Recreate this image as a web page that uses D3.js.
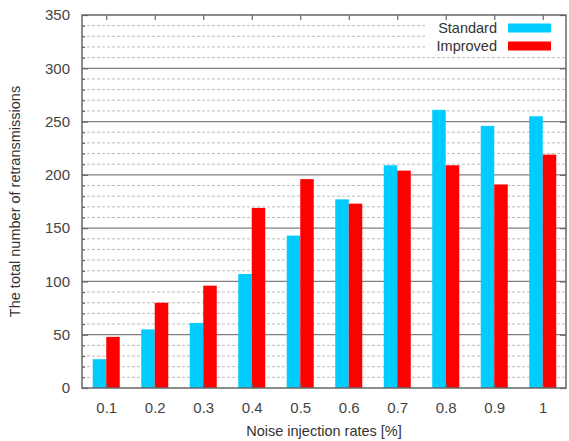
<!DOCTYPE html>
<html><head><meta charset="utf-8">
<script src="https://cdn.jsdelivr.net/npm/d3@7"></script>
<style>body{margin:0;background:#fff}svg{display:block}</style>
</head><body>
<script>
const categories = [0.1,0.2,0.3,0.4,0.5,0.6,0.7,0.8,0.9,1];
const categoryLabels = ["0.1","0.2","0.3","0.4","0.5","0.6","0.7","0.8","0.9","1"];
const standard = [27,55,61,107,143,177,209,261,246,255];
const improved = [48,80,96,169,196,173,204,209,191,219];
const seriesNames = ["Standard","Improved"];
const yMajorTicks = [0,50,100,150,200,250,300,350];

const W=569,H=441;
const m={l:82,r:3,t:15,b:53};
const svg=d3.select("body").append("svg").attr("width",W).attr("height",H);
const x=d3.scaleLinear().domain([0.05,1.05]).range([m.l,W-m.r+1]);
const y=d3.scaleLinear().domain([0,350]).range([H-m.b,m.t]);
const font="Liberation Sans, Arial, sans-serif";
const minor=d3.range(0,351,10).filter(v=>v%50!==0);

// minor grid
svg.append("g").selectAll("line").data(minor).join("line")
 .attr("x1",m.l).attr("x2",W-m.r).attr("y1",d=>y(d)).attr("y2",d=>y(d))
 .attr("stroke","#bdbdbd").attr("stroke-width",1).attr("stroke-dasharray","3,2");
// legend background
svg.append("rect").attr("x",425).attr("y",17).attr("width",W-m.r-425).attr("height",37).attr("fill","#fff");
// major grid
svg.append("g").selectAll("line").data(yMajorTicks.slice(1,-1)).join("line")
 .attr("x1",m.l).attr("x2",W-m.r).attr("y1",d=>y(d)).attr("y2",d=>y(d))
 .attr("stroke","#808080").attr("stroke-width",1.3);

const bw=13.5;
const series=[standard,improved];
const colors=["#00ccff","#ff0000"];
series.forEach((s,si)=>{
 svg.append("g").selectAll("rect").data(categories).join("rect")
  .attr("x",(d)=>x(d)+(si===0?-bw:0)).attr("width",bw)
  .attr("y",(d,i)=>y(s[i])).attr("height",(d,i)=>y(0)-y(s[i]))
  .attr("fill",colors[si]);
});

// axes with inward ticks
const yAxisL=d3.axisLeft(y).tickValues(yMajorTicks).tickSize(-6).tickPadding(12).tickFormat(d3.format("d"));
svg.append("g").attr("transform",`translate(${m.l},0)`).call(yAxisL);
const yMinorL=d3.axisLeft(y).tickValues(minor).tickSize(-3).tickFormat("");
svg.append("g").attr("transform",`translate(${m.l},0)`).call(yMinorL).call(g=>g.select(".domain").remove());
const yR=d3.axisRight(y).tickValues(yMajorTicks).tickSize(-6).tickFormat("");
svg.append("g").attr("transform",`translate(${W-m.r},0)`).call(yR).call(g=>g.select(".domain").remove());
const xB=d3.axisBottom(x).tickValues(categories).tickSize(-5).tickPadding(14).tickFormat((d,i)=>categoryLabels[i]);
svg.append("g").attr("transform",`translate(0,${H-m.b})`).call(xB);
const xT=d3.axisTop(x).tickValues(categories).tickSize(-5).tickFormat("");
svg.append("g").attr("transform",`translate(0,${m.t})`).call(xT).call(g=>g.select(".domain").remove());

svg.selectAll(".tick line").attr("stroke","#666").attr("stroke-width",1.2);
svg.selectAll(".domain").attr("stroke","none");
svg.selectAll(".tick text").attr("font-family",font).attr("font-size",15).attr("fill","#444");

// frame
svg.append("rect").attr("x",m.l).attr("y",m.t).attr("width",W-m.r-m.l).attr("height",H-m.b-m.t)
 .attr("fill","none").attr("stroke","#666").attr("stroke-width",1.5);

// legend
const lg=[{n:seriesNames[0],c:colors[0],yy:28},{n:seriesNames[1],c:colors[1],yy:46}];
lg.forEach(l=>{
 svg.append("text").attr("x",497).attr("y",l.yy).attr("dy","0.35em").attr("text-anchor","end")
  .attr("font-family",font).attr("font-size",14.5).attr("fill","#333").text(l.n);
 svg.append("rect").attr("x",508).attr("y",l.yy-4.5).attr("width",43).attr("height",9).attr("fill",l.c);
});

// titles
svg.append("text").attr("x",324).attr("y",431).attr("dy","0.35em").attr("text-anchor","middle")
 .attr("font-family",font).attr("font-size",14.5).attr("fill","#333").text("Noise injection rates [%]");
svg.append("text").attr("transform",`translate(15,${(m.t+H-m.b)/2}) rotate(-90)`).attr("dy","0.35em")
 .attr("text-anchor","middle").attr("font-family",font).attr("font-size",14.5).attr("fill","#333")
 .text("The total number of retransmissions");
</script>
</body></html>
